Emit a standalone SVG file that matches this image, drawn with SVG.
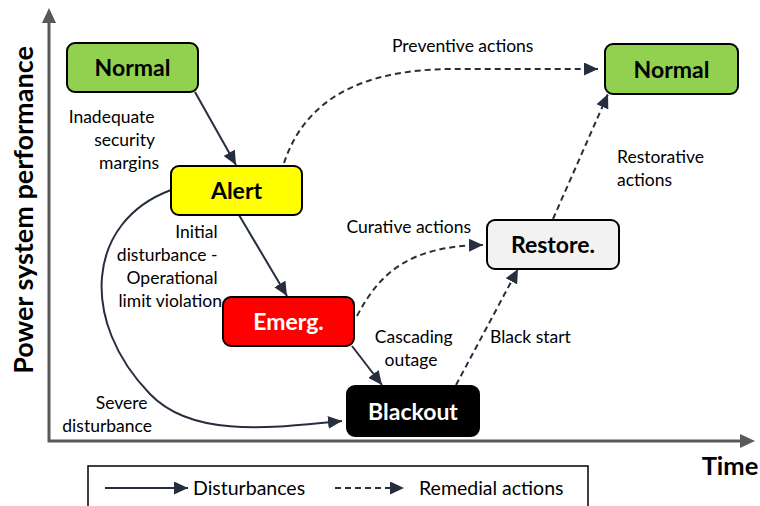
<svg xmlns="http://www.w3.org/2000/svg" width="760" height="506" viewBox="0 0 760 506">
  <defs>
    <style>
      .box { stroke: #000; stroke-width: 2; }
      .node-label { font-family: Lato, "Liberation Sans", sans-serif; font-weight: bold; font-size: 23px; text-anchor: middle; }
      .lbl { font-family: Lato, "Liberation Sans", sans-serif; font-size: 17.5px; fill: #000; }
      .leg { font-family: Lato, "Liberation Sans", sans-serif; font-size: 19.5px; fill: #000; }
      .axis-title { font-family: Lato, "Liberation Sans", sans-serif; font-weight: bold; fill: #000; }
      .dist { fill: none; stroke: #262f3d; stroke-width: 2; marker-end: url(#arrow); }
      .rem { fill: none; stroke: #262f3d; stroke-width: 2; stroke-dasharray: 6 4; marker-end: url(#arrow); }
      .axis { stroke: #595959; stroke-width: 3; fill: none; }
    </style>
    <marker id="arrow" markerUnits="userSpaceOnUse" markerWidth="15" markerHeight="13" refX="14" refY="6.5" orient="auto">
      <path d="M0,0 L14,6.5 L0,13 z" fill="#262f3d"/>
    </marker>
  </defs>

  <!-- axes -->
  <g id="axes">
    <polyline class="axis" points="49,23 49,441 740,441"/>
    <path d="M42,23 L49,8 L56,23 z" fill="#595959"/>
    <path d="M740,434 L755,441 L740,448 z" fill="#595959"/>
    <text class="axis-title" font-size="27" transform="translate(33,210) rotate(-90)" text-anchor="middle">Power system performance</text>
    <text class="axis-title" font-size="25.5" x="730" y="475" text-anchor="middle">Time</text>
  </g>

  <!-- connectors -->
  <g id="connectors">
    <path class="dist" d="M195,92 L236,165"/>
    <path class="dist" d="M239,215 L287,296"/>
    <path class="dist" d="M352,346 L382,385"/>
    <path class="dist" d="M171,190 C 85,222 80,322 150,394 C 192,438 270,428 342,421"/>
    <path class="rem" d="M284,163 C 305,100 360,70 450,69 L598,69"/>
    <path class="rem" d="M357,316 C 380,272 410,246 483,245"/>
    <path class="rem" d="M456,385 L518,269"/>
    <path class="rem" d="M553,219 L608,94"/>
  </g>

  <!-- states -->
  <g id="normal-start">
    <rect class="box" x="67" y="43" width="131" height="49" rx="8" fill="#92d050"/>
    <text class="node-label" x="132.5" y="76" fill="#000">Normal</text>
  </g>
  <g id="alert">
    <rect class="box" x="171" y="166" width="131" height="49" rx="8" fill="#ffff00"/>
    <text class="node-label" x="236.5" y="199" fill="#000">Alert</text>
  </g>
  <g id="emergency">
    <rect class="box" x="223" y="297" width="131" height="49" rx="8" fill="#ff0000"/>
    <text class="node-label" x="288.5" y="330" fill="#fff">Emerg.</text>
  </g>
  <g id="blackout">
    <rect class="box" x="347" y="386" width="132" height="50" rx="8" fill="#000"/>
    <text class="node-label" x="413" y="419.5" fill="#fff">Blackout</text>
  </g>
  <g id="restore">
    <rect class="box" x="487" y="220" width="132" height="49" rx="8" fill="#f2f2f2"/>
    <text class="node-label" x="553" y="253" fill="#000">Restore.</text>
  </g>
  <g id="normal-end">
    <rect class="box" x="605" y="44" width="133" height="50" rx="8" fill="#92d050"/>
    <text class="node-label" x="671.5" y="77.5" fill="#000">Normal</text>
  </g>

  <!-- transition labels -->
  <g id="labels">
    <text class="lbl" text-anchor="end">
      <tspan x="159" y="123">Inadequate</tspan>
      <tspan x="159" y="146">security</tspan>
      <tspan x="159" y="169">margins</tspan>
    </text>
    <text class="lbl" text-anchor="end">
      <tspan x="222" y="238">Initial</tspan>
      <tspan x="222" y="261">disturbance -</tspan>
      <tspan x="222" y="284">Operational</tspan>
      <tspan x="222" y="307">limit violation</tspan>
    </text>
    <text class="lbl" text-anchor="end">
      <tspan x="152" y="409">Severe</tspan>
      <tspan x="152" y="432">disturbance</tspan>
    </text>
    <text class="lbl" x="392" y="52">Preventive actions</text>
    <text class="lbl" x="471" y="233" text-anchor="end">Curative actions</text>
    <text class="lbl">
      <tspan x="617" y="163">Restorative</tspan>
      <tspan x="617" y="186">actions</tspan>
    </text>
    <text class="lbl" text-anchor="middle">
      <tspan x="416" y="343">Cascading</tspan>
      <tspan x="411" y="366">outage</tspan>
    </text>
    <text class="lbl" x="490" y="343">Black start</text>
  </g>

  <!-- legend -->
  <g id="legend">
    <rect x="88" y="466" width="500" height="50" fill="#fff" stroke="#000" stroke-width="1.5"/>
    <path class="dist" d="M105,488 L188,488"/>
    <text class="leg" x="193" y="495">Disturbances</text>
    <path class="rem" d="M335,488 L404,488"/>
    <text class="leg" x="419" y="495">Remedial actions</text>
  </g>
</svg>
